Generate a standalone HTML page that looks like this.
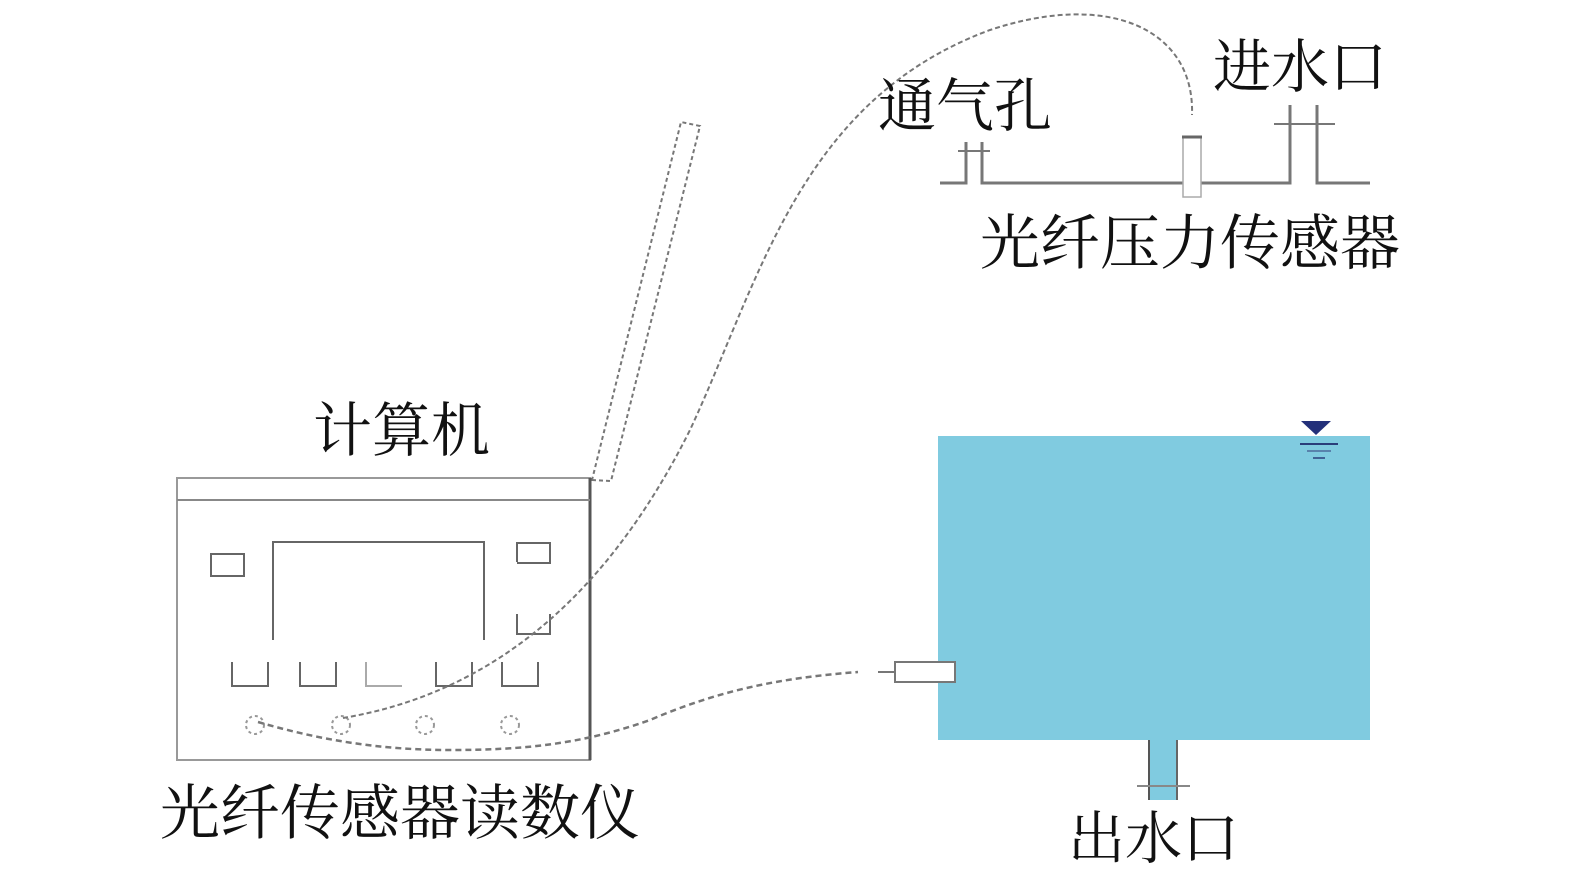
<!DOCTYPE html>
<html><head><meta charset="utf-8"><style>
body{margin:0;background:#fff}
svg{display:block}
text{font-family:"Liberation Serif","Noto Serif CJK SC",serif;fill:#111}
</style></head><body>
<svg width="1575" height="880" viewBox="0 0 1575 880" xmlns="http://www.w3.org/2000/svg">
<!-- tank -->
<rect x="938" y="436" width="432" height="304" fill="#80cbe0"/>
<rect x="1148" y="738" width="29" height="62" fill="#80cbe0"/>
<line x1="1149" y1="740" x2="1149" y2="800" stroke="#555" stroke-width="2"/>
<line x1="1177" y1="740" x2="1177" y2="800" stroke="#666" stroke-width="2"/>
<line x1="1137" y1="786" x2="1190" y2="786" stroke="#888" stroke-width="2"/>
<polygon points="1301,421 1331,421 1316,435" fill="#23307a"/>
<line x1="1300" y1="444" x2="1338" y2="444" stroke="#2a3e7a" stroke-width="2"/>
<line x1="1307" y1="451" x2="1331" y2="451" stroke="#4a6a9a" stroke-width="1.5"/>
<line x1="1313" y1="458" x2="1325" y2="458" stroke="#2a3e7a" stroke-width="1.5"/>
<!-- side sensor -->
<rect x="895" y="662" width="60" height="20" fill="#fff" stroke="#777" stroke-width="2"/>
<line x1="878" y1="672" x2="895" y2="672" stroke="#777" stroke-width="2"/>
<!-- top pipe -->
<g stroke="#777" stroke-width="3" fill="none">
<polyline points="940,183 966,183 966,142"/>
<polyline points="982,142 982,183 1183,183"/>
<polyline points="1200,183 1290,183 1290,105"/>
<polyline points="1317,105 1317,183 1370,183"/>
<line x1="958" y1="151" x2="990" y2="151" stroke-width="2"/>
<line x1="1274" y1="124" x2="1335" y2="124" stroke-width="2"/>
</g>
<rect x="1183" y="137" width="18" height="60" fill="#fff" stroke="#aaa" stroke-width="1.5"/>
<line x1="1182" y1="137" x2="1202" y2="137" stroke="#666" stroke-width="3"/>
<!-- computer stick -->
<polygon points="592,480 611,481 700,126 681,122" fill="none" stroke="#777" stroke-width="2" stroke-dasharray="4,3"/>
<!-- box -->
<rect x="177" y="478" width="413" height="282" fill="none" stroke="#999" stroke-width="2"/>
<line x1="590" y1="478" x2="590" y2="760" stroke="#555" stroke-width="3"/>
<line x1="177" y1="500" x2="590" y2="500" stroke="#888" stroke-width="2"/>
<g fill="none" stroke="#666" stroke-width="2">
<rect x="211" y="554" width="33" height="22"/>
<polyline points="273,640 273,542 484,542 484,640"/>
<polyline points="517,562 517,543 550,543 550,563 517,563"/>
<polyline points="517,614 517,634 550,634 550,614"/>
<polyline points="232,662 232,686 268,686 268,662"/>
<polyline points="300,662 300,686 336,686 336,662"/>
<polyline points="366,662 366,686 402,686" stroke="#aaa"/>
<polyline points="436,662 436,686 472,686 472,662"/>
<polyline points="502,662 502,686 538,686 538,662"/>
</g>
<g fill="none" stroke="#999" stroke-width="2" stroke-dasharray="3,3">
<circle cx="255" cy="725" r="9"/><circle cx="341" cy="725" r="9"/>
<circle cx="425" cy="725" r="9"/><circle cx="510" cy="725" r="9"/>
</g>
<!-- cables -->
<path d="M343,718 C480,695 600,610 690,430 C760,280 800,100 990,30 C1110,-10 1195,30 1192,115" fill="none" stroke="#777" stroke-width="2" stroke-dasharray="5,3"/>
<path d="M258,722 C320,740 380,750 450,750 C520,750 580,745 650,720 C720,690 780,678 858,672" fill="none" stroke="#777" stroke-width="2.5" stroke-dasharray="6,4"/>
<!-- labels -->
<text x="878" y="126" font-size="58">通气孔</text>
<text x="1213" y="87" font-size="58">进水口</text>
<text x="980" y="264" font-size="60">光纤压力传感器</text>
<text x="313" y="451" font-size="59">计算机</text>
<text x="160" y="834" font-size="60">光纤传感器读数仪</text>
<text x="1068" y="858" font-size="57">出水口</text>
</svg>
</body></html>
